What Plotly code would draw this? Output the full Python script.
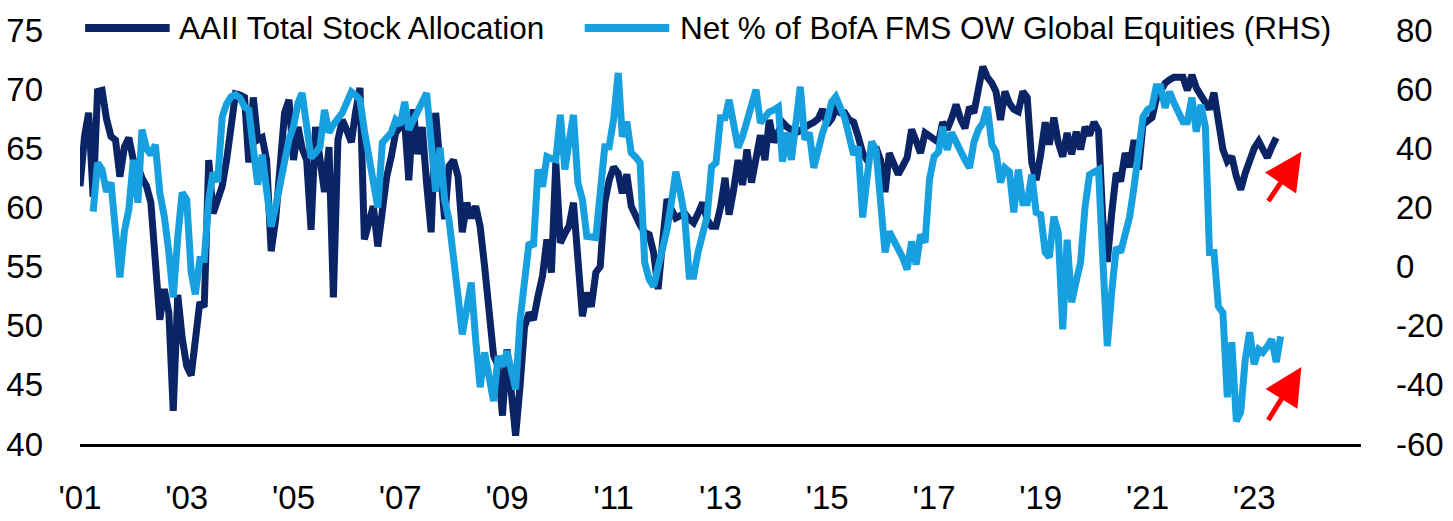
import pandas as pd
import plotly.graph_objects as go

aaii_name = "AAII Total Stock Allocation"
bofa_name = "Net % of BofA FMS OW Global Equities (RHS)"

# AAII monthly, Jan 2001 - Jun 2023
aaii = [
    61.8, 66.0, 68.0, 60.9, 69.8, 69.9, 67.5, 66.0, 65.7, 62.6, 65.1, 65.9,   # 2001
    64.0, 63.5, 62.5, 61.8, 60.4, 55.0, 50.5, 53.1, 51.1, 42.8, 52.6, 49.0,   # 2002
    46.6, 45.8, 48.6, 52.0, 51.6, 64.0, 59.5, 60.5, 61.8, 64.0, 66.8, 69.6,   # 2003
    69.5, 69.3, 63.8, 69.3, 65.7, 65.9, 64.0, 56.3, 59.0, 63.0, 68.0, 69.1,   # 2004
    64.0, 66.8, 65.0, 64.0, 58.1, 66.8, 63.8, 61.3, 65.1, 52.4, 65.7, 67.4,   # 2005
    66.5, 65.5, 68.0, 70.1, 57.3, 59.0, 60.1, 56.7, 59.5, 62.6, 64.3, 66.3,   # 2006
    66.8, 67.2, 62.3, 68.3, 64.5, 66.8, 62.0, 57.9, 68.0, 63.0, 59.0, 63.5,   # 2007
    64.0, 62.6, 57.9, 60.4, 59.1, 60.1, 58.4, 55.0, 51.4, 47.5, 46.6, 42.4,   # 2008
    48.0, 44.0, 40.7, 45.0, 49.9, 51.1, 50.5, 52.5, 54.2, 57.3, 54.5, 63.8,   # 2009
    57.0, 57.8, 58.4, 60.4, 55.0, 50.8, 52.8, 51.6, 54.5, 55.0, 60.4, 62.3,   # 2010
    63.4, 62.9, 61.2, 62.8, 60.1, 59.2, 58.5, 57.9, 57.7, 56.2, 53.1, 57.0,   # 2011
    60.7, 59.8, 59.1, 59.3, 59.5, 59.0, 58.7, 59.5, 60.4, 59.0, 58.4, 58.4,   # 2012
    60.0, 62.5, 59.4, 61.5, 64.0, 61.9, 64.9, 62.1, 64.0, 66.1, 64.0, 67.4,   # 2013
    65.5, 66.5, 67.2, 66.8, 66.5, 66.3, 66.5, 66.8, 67.0, 67.2, 67.5, 68.3,   # 2014
    67.0, 67.5, 68.3, 68.0, 68.0, 67.4, 67.2, 66.0, 64.6, 64.0, 64.5, 65.1,   # 2015
    64.0, 61.3, 64.6, 63.5, 62.8, 63.5, 64.2, 66.6, 65.5, 64.6, 66.3, 66.0,   # 2016
    65.8, 65.5, 67.2, 66.6, 67.5, 68.7, 67.5, 66.7, 68.5, 68.0, 70.0, 71.9,   # 2017
    71.0, 70.5, 69.8, 67.4, 69.8, 68.8, 68.3, 68.1, 69.8, 69.3, 63.8, 62.3,   # 2018
    64.5, 67.2, 65.3, 67.6, 65.5, 64.3, 66.3, 64.5, 66.4, 64.9, 66.8, 66.1,   # 2019
    67.2, 66.5, 59.0, 55.4, 59.5, 62.9, 62.2, 64.6, 63.4, 65.7, 63.2, 67.0,   # 2020
    67.3, 67.6, 69.1, 69.7, 70.5, 70.8, 71.0, 71.0, 71.0, 69.9, 71.2, 70.1,   # 2021
    69.5, 68.9, 68.3, 69.7, 66.8, 64.9, 63.9, 64.3, 62.6, 61.5, 62.9, 64.0,   # 2022
    65.0, 65.6, 65.0, 64.2, 65.1, 65.9,                                       # 2023
]

# BofA FMS net % overweight global equities, Apr 2001 - Jul 2023
bofa = [
    18.6, 35.1, 32.8, 25.3, 28.4, 12.0, -3.7, 12.0, 19.3,                     # 2001 (Apr-Dec)
    36.1, 21.6, 46.3, 40.0, 37.8, 41.2, 25.0, 16.9, 4.8, -10.4, 10.0, 25.0,   # 2002
    22.6, -2.0, -9.4, 2.4, 2.4, 22.6, 31.8, 28.7, 50.6, 55.0, 57.4, 58.1,     # 2003
    57.0, 54.0, 53.0, 40.0, 27.7, 37.8, 25.0, 13.5, 20.3, 28.0, 36.1, 42.9,   # 2004
    47.3, 55.4, 58.7, 48.0, 36.8, 38.5, 40.5, 53.0, 45.3, 48.0, 50.0, 52.0,   # 2005
    55.5, 59.1, 58.0, 56.4, 46.0, 36.1, 28.0, 19.9, 41.9, 43.5, 45.3, 49.6,   # 2006
    47.9, 55.7, 46.3, 49.5, 53.0, 56.0, 58.7, 42.0, 25.3, 40.2, 22.6, 15.9,   # 2007
    5.0, -10.0, -22.9, -14.0, -5.4, -25.0, -40.8, -29.0, -38.0, -45.5, -30.3, -33.7,  # 2008
    -28.6, -35.0, -41.5, -17.8, -5.0, 8.1, 6.8, 32.8, 27.0, 37.2, 36.5, 36.1,  # 2009
    51.3, 32.8, 42.0, 51.3, 28.4, 22.6, 10.2, 10.0, 9.8, 25.0, 40.5, 40.5,    # 2010
    50.0, 65.5, 43.9, 49.0, 38.5, 37.0, 35.1, 1.4, -4.3, -6.7, 0.0, 6.8,      # 2011
    12.5, 22.0, 32.1, 25.0, 16.9, -3.3, -3.3, 5.0, 11.5, 16.9, 33.8, 35.1,    # 2012
    50.3, 50.3, 56.4, 48.0, 40.2, 44.0, 48.6, 54.0, 59.8, 48.6, 50.5, 52.3,   # 2013
    53.0, 54.0, 35.5, 45.3, 36.1, 48.0, 60.8, 42.9, 45.3, 33.4, 40.0, 45.3,   # 2014
    49.6, 55.7, 57.4, 54.0, 50.3, 44.0, 37.8, 40.5, 16.6, 30.0, 42.2, 39.5,   # 2015
    22.0, 4.8, 11.8, 9.0, 5.8, 3.0, -1.0, 8.5, 0.7, 10.8, 8.1, 29.4,          # 2016
    37.2, 38.8, 47.3, 39.5, 45.3, 42.0, 38.5, 36.0, 33.4, 42.0, 46.3, 48.6,   # 2017
    54.0, 41.2, 38.8, 28.4, 33.4, 32.1, 18.3, 32.8, 21.6, 21.6, 31.1, 18.3,   # 2018
    17.6, 4.8, 3.1, 16.9, 11.5, -21.2, 9.1, -12.1, -5.0, 1.4, 20.3, 31.1,     # 2019
    32.0, 32.8, 2.4, -26.9, -8.7, 6.5, 4.8, 10.0, 16.9, 27.0, 40.0, 50.6,     # 2020
    53.0, 54.0, 60.8, 60.8, 53.7, 59.1, 55.4, 52.0, 49.0, 49.0, 57.1, 45.6,   # 2021
    54.7, 47.3, 4.8, 4.8, -13.5, -15.6, -44.2, -25.6, -52.3, -49.2, -31.3, -22.2,  # 2022
    -33.0, -28.0, -29.0, -27.0, -24.6, -32.3, -23.6,                          # 2023
]

aaii_dates = pd.date_range("2001-01-01", periods=len(aaii), freq="MS")
bofa_dates = pd.date_range("2001-04-01", periods=len(bofa), freq="MS")

tick_years = [2001, 2003, 2005, 2007, 2009, 2011, 2013, 2015, 2017, 2019, 2021, 2023]
tick_labels = ["'01", "'03", "'05", "'07", "'09", "'11", "'13", "'15", "'17", "'19", "'21", "'23"]

left_ticks = [40, 45, 50, 55, 60, 65, 70, 75]
right_ticks = [-60, -40, -20, 0, 20, 40, 60, 80]
right_tick_labels = ["-60", "-40", "-20", "0", "20", "40", "60", "80"]

DARK = "#0B2466"
LIGHT = "#17A0E0"
FONT = "Liberation Sans, Arial, sans-serif"

fig = go.Figure()
fig.add_trace(go.Scatter(x=bofa_dates, y=bofa, mode="lines", name=bofa_name,
                         line=dict(color=LIGHT, width=7), yaxis="y2", showlegend=False))
fig.add_trace(go.Scatter(x=aaii_dates, y=aaii, mode="lines", name=aaii_name,
                         line=dict(color=DARK, width=7), showlegend=False))

# manual legend (long line samples like the reference)
leg_y = 1.005
for x0, x1, col, tx, txt in [(0.004, 0.070, DARK, 0.076, aaii_name),
                             (0.394, 0.460, LIGHT, 0.467, bofa_name)]:
    fig.add_shape(type="line", xref="paper", yref="paper", x0=x0, x1=x1, y0=leg_y, y1=leg_y,
                  line=dict(color=col, width=8))
    fig.add_annotation(xref="paper", yref="paper", x=tx, y=leg_y, text=txt, showarrow=False,
                       xanchor="left", yanchor="middle", font=dict(size=31.5, color="#000000", family=FONT))

# red arrows
for y0, y1 in [(60.4, 64.7), (41.9, 46.5)]:
    fig.add_annotation(x="2023-11-20", y=y1, ax="2023-04-01", ay=y0, xref="x", yref="y",
                       axref="x", ayref="y", showarrow=True, text="", arrowhead=2,
                       arrowsize=1.5, arrowwidth=5, arrowcolor="#FF0000", standoff=0)

fig.update_layout(
    width=1453, height=521,
    margin=dict(l=80, r=92, t=30, b=77),
    paper_bgcolor="white", plot_bgcolor="white",
    font=dict(family=FONT, size=33, color="#000000"),
    xaxis=dict(
        range=["2001-01-01", "2025-01-01"], automargin=False,
        tickvals=[f"{y}-01-01" for y in tick_years], ticktext=tick_labels,
        showgrid=False, zeroline=False, showline=True, linecolor="#000000", linewidth=3,
        ticks="", ticklabelstandoff=22, tickfont=dict(size=33),
    ),
    yaxis=dict(
        range=[40, 75], tickvals=left_ticks, showgrid=False, zeroline=False, automargin=False,
        showline=False, ticks="", ticklabelstandoff=36, tickfont=dict(size=33),
    ),
    yaxis2=dict(
        range=[-60, 80], tickvals=right_ticks, ticktext=right_tick_labels,
        overlaying="y", side="right", automargin=False,
        showgrid=False, zeroline=False, showline=False, ticks="",
        ticklabelstandoff=34, tickfont=dict(size=33),
    ),
)

fig.write_html("out.html")
